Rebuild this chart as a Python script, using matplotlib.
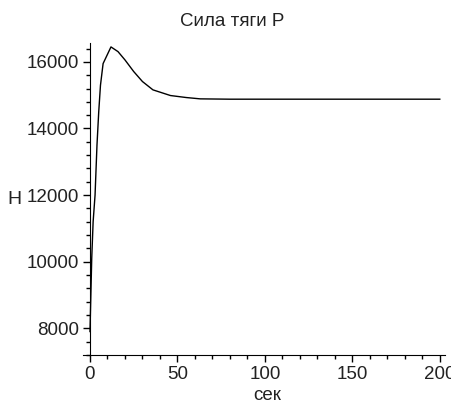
import numpy as np
import matplotlib.pyplot as plt
from matplotlib.ticker import MultipleLocator

plt.rcParams['font.family'] = ['Liberation Sans', 'DejaVu Sans']

# время, с
t = [0, 0.5, 1.0, 1.8, 2.9, 4.0, 5.0, 6.0, 7.5, 12, 16, 20, 25, 30, 36, 46, 55, 63, 80, 120, 200]
# сила тяги, Н
P = [7900, 9000, 10100, 11200, 12000, 13500, 14500, 15300, 15950, 16450, 16310, 16060,
     15710, 15410, 15160, 14990, 14930, 14890, 14880, 14880, 14880]

fig = plt.figure(figsize=(4.52, 4.05), dpi=100)
ax = fig.add_axes([0.1836, 0.123, 0.801, 0.771])

ax.plot(t, P, color='black', lw=1.0)

ax.set_xlim(-4, 203)
ax.set_ylim(7190, 16570)

ax.spines['top'].set_visible(False)
ax.spines['right'].set_visible(False)
ax.spines['left'].set_position(('data', 0))

ax.xaxis.set_major_locator(MultipleLocator(50))
ax.xaxis.set_minor_locator(MultipleLocator(10))
ax.yaxis.set_major_locator(MultipleLocator(2000))
ax.yaxis.set_minor_locator(MultipleLocator(400))
ax.tick_params(which='major', length=5, width=1, labelsize=13.5, pad=3, labelcolor='#222222')
ax.tick_params(which='minor', length=3, width=1)

fig.text(232 / 452, 1 - 21 / 405, 'Сила тяги P', ha='center', va='center', fontsize=13.5, color='#222222')
fig.text(14 / 452, 1 - 200 / 405, 'Н', ha='center', va='center', fontsize=14, color='#222222')
fig.text(267 / 452, 1 - 395 / 405, 'сек', ha='center', va='center', fontsize=13.5, color='#222222')

fig.savefig('out.png', dpi=100)
